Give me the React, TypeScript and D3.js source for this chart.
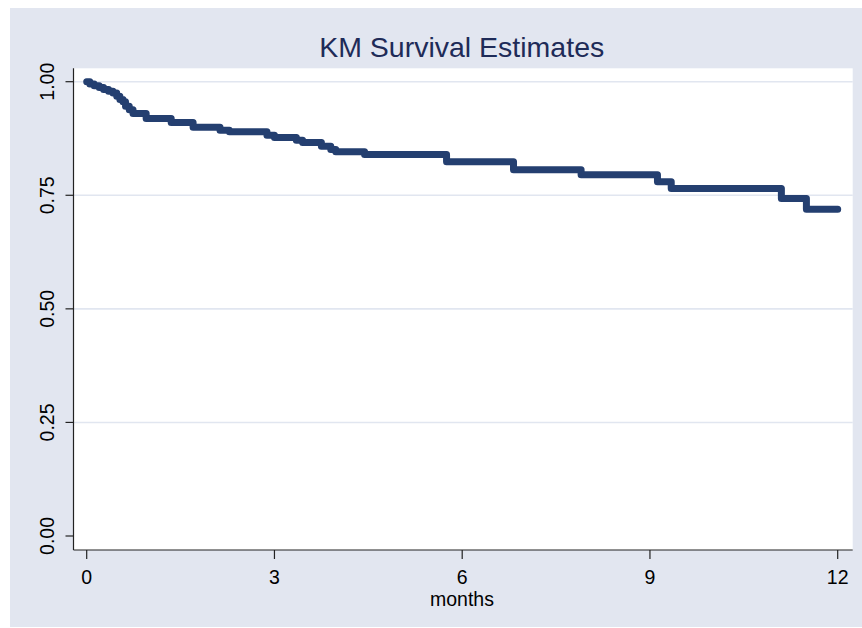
import React from "react";
import * as d3 from "d3";

// Kaplan–Meier step estimates: time (months) at which the estimate drops, and the new value
const stepTimes = [
  0, 0.05, 0.12, 0.2, 0.27, 0.35, 0.42, 0.48, 0.53, 0.58, 0.62, 0.68, 0.74,
  0.95, 1.35, 1.7, 2.13, 2.28, 2.88, 3.0, 3.35, 3.45, 3.75, 3.9, 3.98, 4.44,
  5.75, 6.82, 7.9, 9.12, 9.34, 11.1, 11.5, 12.0,
];
const survival = [
  1.0, 0.995, 0.991, 0.987, 0.983, 0.979, 0.975, 0.968, 0.961, 0.956, 0.946,
  0.938, 0.93, 0.919, 0.91, 0.9, 0.893, 0.89, 0.882, 0.877, 0.871, 0.866,
  0.858, 0.851, 0.846, 0.84, 0.824, 0.806, 0.795, 0.78, 0.765, 0.743, 0.719,
  0.719,
];
const xTicks = [0, 3, 6, 9, 12];
const yTicks = [0, 0.25, 0.5, 0.75, 1];
const yTickLabels = ["0.00", "0.25", "0.50", "0.75", "1.00"];
const titleText = "KM Survival Estimates";
const xAxisTitle = "months";

const W = 862;
const H = 628;
const plot = { left: 73.5, right: 852.7, top: 68.3, bottom: 550 };

export default function App() {
  const x = d3.scaleLinear().domain([0, 12]).range([86.7, 837.7]);
  const y = d3.scaleLinear().domain([0, 1]).range([536, 81.7]);

  const pts: [number, number][] = stepTimes.map((t, i) => [t, survival[i]]);
  const line = d3
    .line<[number, number]>()
    .x((d) => x(d[0]))
    .y((d) => y(d[1]))
    .curve(d3.curveStepAfter);

  const font = "Arial, 'Liberation Sans', Helvetica, sans-serif";

  return (
    <svg
      width={W}
      height={H}
      style={{ position: "absolute", left: 0, top: 0, display: "block" }}
    >
      <rect x={0} y={0} width={W} height={H} fill="#ffffff" />
      <rect x={10} y={8} width={W - 10} height={619} fill="#e2e6f0" />
      <rect
        x={plot.left}
        y={plot.top}
        width={plot.right - plot.left}
        height={plot.bottom - plot.top}
        fill="#ffffff"
      />

      {/* horizontal grid lines */}
      {yTicks
        .filter((v) => v > 0)
        .map((v) => (
          <line
            key={"g" + v}
            x1={plot.left}
            x2={plot.right}
            y1={y(v)}
            y2={y(v)}
            stroke="#e1e6f0"
            strokeWidth={1.6}
          />
        ))}

      {/* title */}
      <text
        x={461.7}
        y={56.5}
        textAnchor="middle"
        fontFamily={font}
        fontSize={28.5}
        fill="#1e2b58"
      >
        {titleText}
      </text>

      {/* survival curve */}
      <path
        d={line(pts) || ""}
        fill="none"
        stroke="#243f70"
        strokeWidth={7}
        strokeLinejoin="round"
        strokeLinecap="round"
      />

      {/* axes */}
      <line
        x1={plot.left}
        x2={plot.left}
        y1={plot.top}
        y2={plot.bottom}
        stroke="#222"
        strokeWidth={1.2}
      />
      <line
        x1={plot.left}
        x2={plot.right}
        y1={plot.bottom}
        y2={plot.bottom}
        stroke="#222"
        strokeWidth={1.2}
      />

      {/* y ticks */}
      {yTicks.map((v, i) => (
        <g key={"y" + v}>
          <line
            x1={plot.left - 8}
            x2={plot.left}
            y1={y(v)}
            y2={y(v)}
            stroke="#222"
            strokeWidth={1.2}
          />
          <text
            transform={`translate(53.5,${y(v)}) rotate(-90)`}
            textAnchor="middle"
            fontFamily={font}
            fontSize={19.5}
            fill="#000"
          >
            {yTickLabels[i]}
          </text>
        </g>
      ))}

      {/* x ticks */}
      {xTicks.map((v) => (
        <g key={"x" + v}>
          <line
            x1={x(v)}
            x2={x(v)}
            y1={plot.bottom}
            y2={plot.bottom + 9}
            stroke="#222"
            strokeWidth={1.2}
          />
          <text
            x={x(v)}
            y={583.5}
            textAnchor="middle"
            fontFamily={font}
            fontSize={19.5}
            fill="#000"
          >
            {v}
          </text>
        </g>
      ))}

      <text
        x={462}
        y={606}
        textAnchor="middle"
        fontFamily={font}
        fontSize={19.5}
        fill="#000"
      >
        {xAxisTitle}
      </text>
    </svg>
  );
}
